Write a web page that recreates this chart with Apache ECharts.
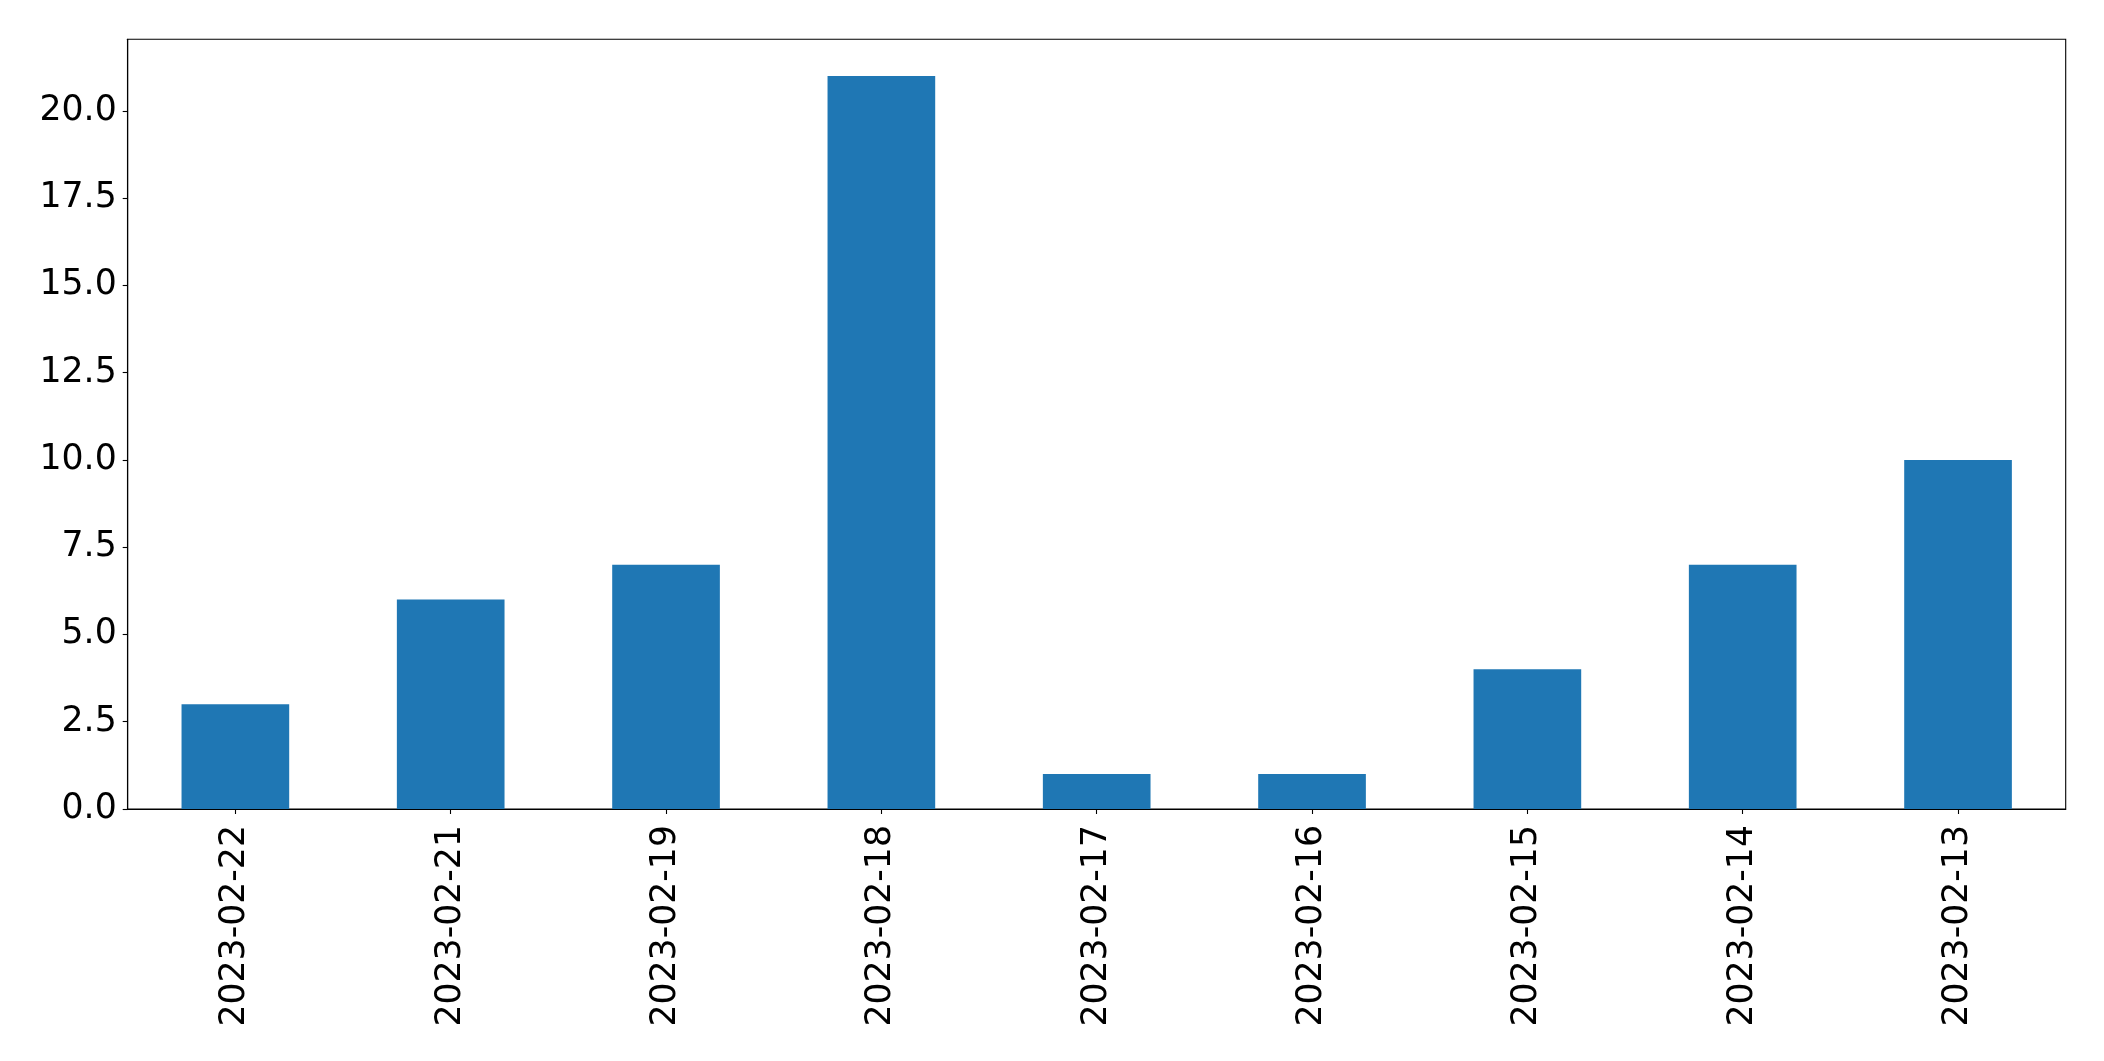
<!DOCTYPE html>
<html>
<head>
<meta charset="utf-8">
<script src="https://cdn.jsdelivr.net/npm/echarts@6/dist/echarts.min.js"></script>
<style>html,body{margin:0;padding:0;background:#fff;}#c{width:2104px;height:1061px;}</style>
</head>
<body>
<div id="c"></div>
<script>
const categories = ["2023-02-22","2023-02-21","2023-02-19","2023-02-18","2023-02-17","2023-02-16","2023-02-15","2023-02-14","2023-02-13"];
const values = [3, 6, 7, 21, 1, 1, 4, 7, 10];
const yMax = 22.05;
const yInterval = 2.5;

const chart = echarts.init(document.getElementById('c'), null, {renderer: 'canvas'});
const font = 'DejaVu Sans';
chart.setOption({
  animation: false,
  backgroundColor: '#fff',
  grid: {left: 127.7, right: 38.3, top: 39.3, bottom: 252, show: true, borderColor: '#000', borderWidth: 1.1, backgroundColor: 'transparent'},
  xAxis: {
    type: 'category',
    data: categories,
    boundaryGap: true,
    axisLine: {show: true, lineStyle: {color: '#000', width: 1.1}},
    axisTick: {show: true, alignWithLabel: true, length: 5, lineStyle: {color: '#000', width: 1.1}},
    axisLabel: {rotate: 90, color: '#000', fontFamily: font, fontSize: 34.7, margin: 16, interval: 0},
    splitLine: {show: false}
  },
  yAxis: {
    type: 'value',
    min: 0,
    max: yMax,
    interval: yInterval,
    axisLine: {show: true, lineStyle: {color: '#000', width: 1.1}},
    axisTick: {show: true, length: 5, lineStyle: {color: '#000', width: 1.1}},
    axisLabel: {color: '#000', fontFamily: font, fontSize: 34.7, margin: 11, showMaxLabel: false, formatter: v => v.toFixed(1)},
    splitLine: {show: false}
  },
  series: [{
    type: 'bar',
    data: values,
    barWidth: '50%',
    itemStyle: {color: '#1f77b4'}
  }]
});
</script>
</body>
</html>
